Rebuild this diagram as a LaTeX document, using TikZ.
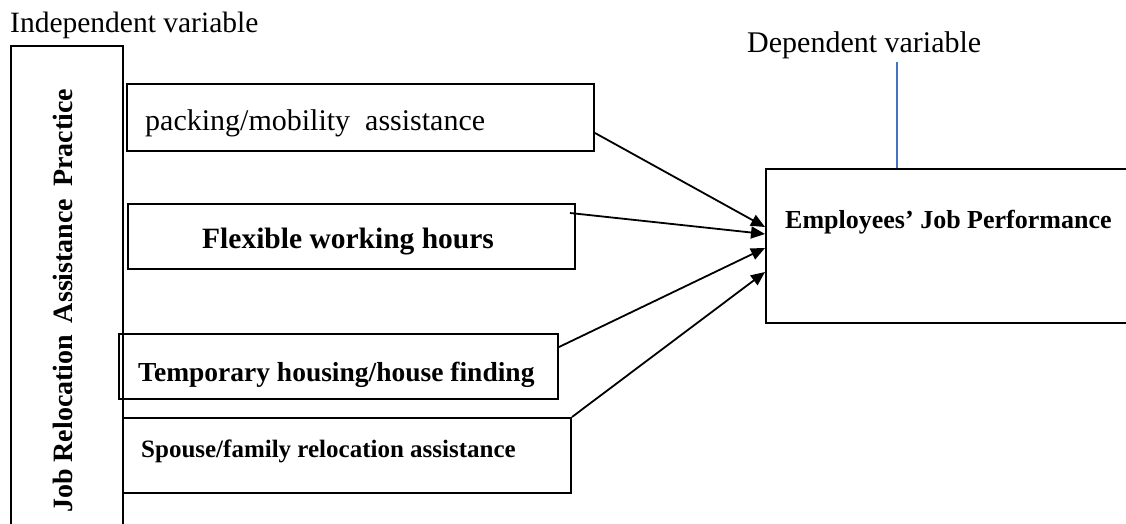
\documentclass[tikz,border=0pt]{standalone}
\usepackage{fontspec}
\setmainfont{Liberation Serif}
\usetikzlibrary{arrows.meta,calc}
\definecolor{wordblue}{RGB}{68,114,196}
\begin{document}
\begin{tikzpicture}[x=1pt,y=-1pt,
  box/.style={draw=black,line width=2pt,inner sep=0pt,anchor=north west},
  lbl/.style={inner sep=0pt,anchor=base west},
  conn/.style={line width=1.8pt,-{Triangle[length=14pt,width=12pt]}}]
\useasboundingbox (0,0) rectangle (1126,524);
% outer independent variable box
\node[box,minimum width=112pt,minimum height=490pt] (outer) at (10,45) {};
\node[inner sep=0pt,anchor=base west,rotate=90,font=\fontsize{28}{30}\selectfont\bfseries] (outerlbl) at (72,513) {Job Relocation\, Assistance\, Practice};
\node[lbl,font=\fontsize{29.5}{32}\selectfont] (indep) at (10,33) {Independent variable};
% factor boxes
\node[box,minimum width=467pt,minimum height=67pt] (b1) at (126,83) {};
\node[lbl,font=\fontsize{30}{32}\selectfont] (t1) at (145,130) {packing/mobility\ \ assistance};
\node[box,minimum width=447pt,minimum height=65pt] (b2) at (127,203) {};
\node[lbl,font=\fontsize{29.5}{32}\selectfont\bfseries] (t2) at (202,248) {Flexible working hours};
\node[box,minimum width=439pt,minimum height=65pt] (b3) at (118,333) {};
\node[lbl,font=\fontsize{27.5}{30}\selectfont\bfseries] (t3) at (138,381) {Temporary housing/house finding};
\node[box,minimum width=448pt,minimum height=75pt] (b4) at (122,417) {};
\node[lbl,font=\fontsize{25}{28}\selectfont\bfseries] (t4) at (141,457) {Spouse/family relocation assistance};
% dependent variable
\node[box,minimum width=363pt,minimum height=154pt] (dep) at (765,168) {};
\node[lbl,font=\fontsize{26}{28}\selectfont\bfseries] (tdep) at (785,228) {Employees’ Job Performance};
\node[lbl,font=\fontsize{30}{32}\selectfont] (deplbl) at (747,53) {Dependent variable};
\coordinate (blueTop) at (897,62);
\draw[wordblue,line width=1.4pt] (blueTop) -- (blueTop |- dep.north);
% connectors
\draw[conn] ($(b1.north east)+(0,50)$) -- ($(dep.north west)+(0,59)$);
\draw[conn] ($(b2.north east)+(-6,10)$) -- ($(dep.north west)+(0,66)$);
\draw[conn] ($(b3.north east)+(0,14)$) -- ($(dep.north west)+(0,80)$);
\draw[conn] (b4.north east) -- ($(dep.north west)+(0,104)$);
\end{tikzpicture}
\end{document}
